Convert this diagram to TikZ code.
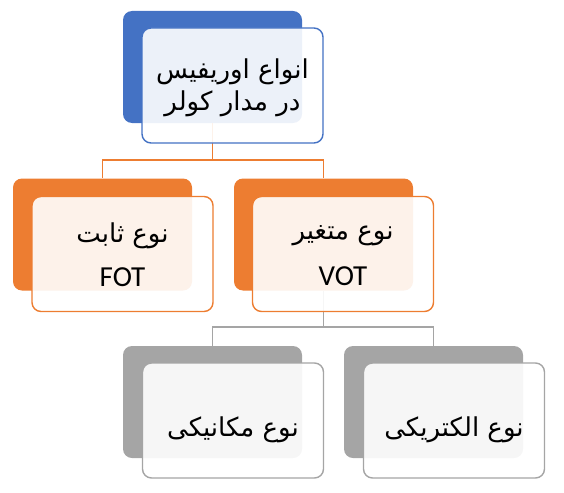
\documentclass[tikz,border=0pt]{standalone}
\usepackage{fontspec}
\setmainfont{Carlito}
\newfontfamily\arabicfont[Script=Arabic]{DejaVu Sans}
\TeXXeTstate=1
\definecolor{topblue}{HTML}{4472C4}
\definecolor{midorange}{HTML}{ED7D31}
\definecolor{lowgray}{HTML}{A5A5A5}
\newcommand{\fa}[1]{{\arabicfont\fontsize{26}{32}\selectfont\beginR #1\endR}}
\begin{document}
\begin{tikzpicture}[x=1pt,y=-1pt]
  \tikzset{
    back/.style={rounded corners=9pt,fill=#1,minimum width=179pt,minimum height=112pt,inner sep=0pt},
    front/.style={rounded corners=9pt,draw=#1,line width=1.4pt,fill=white,fill opacity=0.9,text opacity=1,
      minimum width=181pt,minimum height=115pt,inner sep=0pt,align=center,font=\fontsize{29}{32}\selectfont},
    link/.style={draw=#1,line width=1.4pt}
  }
  \useasboundingbox (0,0) rectangle (564,492);

  %BACK BOXES
  \node[back=topblue] (rootB) at (212.5,67) {};
  \node[back=midorange] (fotB) at (102.5,234.5) {};
  \node[back=midorange] (votB) at (323.5,234.5) {};
  \node[back=lowgray] (mechB) at (212.5,402) {};
  \node[back=lowgray] (elecB) at (433.5,402) {};

  %CONNECTORS
  \coordinate (barA) at (212.5,160);
  \coordinate (barB) at (323.5,327);
  \draw[link=midorange] (rootB.south) -- (barA) -| (fotB.north);
  \draw[link=midorange] (barA) -| (votB.north);
  \draw[link=lowgray] (votB.south) -- (barB) -| (mechB.north);
  \draw[link=lowgray] (barB) -| (elecB.north);

  %FRONT BOXES
  \node[front=topblue] (root) at (232.5,85.5) {\raisebox{-2pt}[\height][\depth]{\fa{انواع اوریفیس}}\\\raisebox{-2pt}[\height][\depth]{\fa{در مدار کولر}}};
  \node[front=midorange] (fot) at (122.5,254) {\raisebox{-2pt}[\height][\depth]{\fa{نوع ثابت}}\\[14pt] FOT};
  \node[front=midorange] (vot) at (343,254) {\raisebox{-2pt}[\height][\depth]{\fa{نوع متغیر}}\\[14pt] \raisebox{-2pt}[\height][\depth]{VOT}};
  \node[front=lowgray] (mech) at (233,420.5) {\raisebox{-9pt}[\height][\depth]{\fa{نوع مکانیکی}}};
  \node[front=lowgray] (elec) at (454,420.5) {\raisebox{-9pt}[\height][\depth]{\fa{نوع الکتریکی}}};
\end{tikzpicture}
\end{document}
